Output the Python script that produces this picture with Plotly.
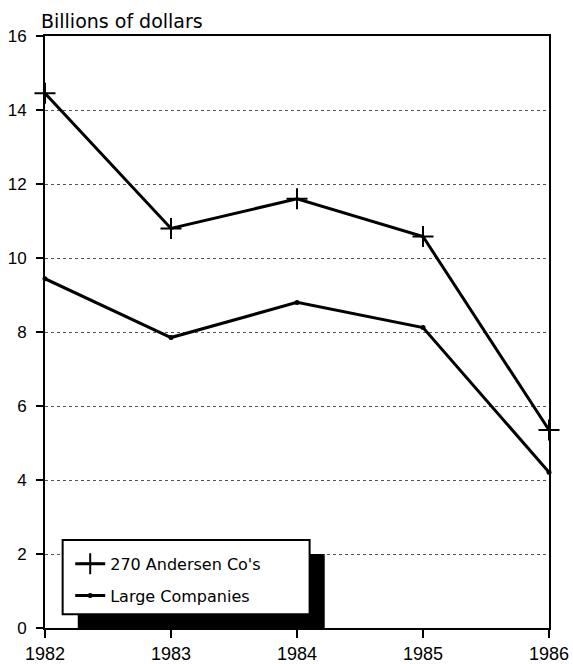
import plotly.graph_objects as go

years = [1982, 1983, 1984, 1985, 1986]
andersen = [14.45, 10.8, 11.6, 10.58, 5.35]
large_cos = [9.44, 7.85, 8.8, 8.12, 4.21]
series_names = ["270 Andersen Co's", "Large Companies"]
y_title = "Billions of dollars"

fig = go.Figure()
fig.add_trace(go.Scatter(
    x=years, y=andersen, name=series_names[0], mode="lines+markers",
    line=dict(color="black", width=3),
    marker=dict(symbol="cross-thin", size=15, line=dict(color="black", width=2)),
    legendgroup="a", cliponaxis=False,
))
fig.add_trace(go.Scatter(
    x=years, y=large_cos, name=series_names[1], mode="lines+markers",
    line=dict(color="black", width=3),
    marker=dict(symbol="circle", size=5, color="black"),
    legendgroup="b", cliponaxis=False,
))

# legend box with drop shadow
fig.add_shape(type="rect", xref="x", yref="y", x0=1982.26, x1=1984.22, y0=0, y1=2,
              fillcolor="black", line=dict(width=0), layer="above")
fig.add_shape(type="rect", xref="x", yref="y", x0=1982.14, x1=1984.10, y0=0.37, y1=2.38,
              fillcolor="white", line=dict(color="black", width=2), layer="above")

fig.add_annotation(text=y_title, xref="paper", yref="paper", x=0, y=1,
                   xanchor="left", yanchor="bottom", xshift=-6, yshift=2, showarrow=False,
                   font=dict(family="DejaVu Sans", size=19, color="black"))

fig.update_layout(
    width=573, height=664,
    margin=dict(l=45, r=24, t=36, b=36, autoexpand=False),
    paper_bgcolor="white", plot_bgcolor="white",
    font=dict(family="Liberation Sans", color="black"),
    showlegend=True,
    legend=dict(x=0.05, y=0.137, xanchor="left", yanchor="top",
                bgcolor="rgba(0,0,0,0)", borderwidth=0,
                font=dict(family="DejaVu Sans", size=16, color="black"),
                traceorder="grouped", tracegroupgap=8),
)
fig.update_xaxes(range=[1982, 1986], tickvals=years, ticks="outside", ticklen=8,
                 tickwidth=2, tickcolor="black", showline=True, linecolor="black",
                 linewidth=2, mirror=True, showgrid=False, zeroline=False,
                 automargin=False,
                 tickfont=dict(family="Liberation Sans", size=18, color="black"))
fig.update_yaxes(range=[0, 16], dtick=2, ticks="outside", ticklen=7, tickwidth=2,
                 tickcolor="black", showline=True, linecolor="black", linewidth=2,
                 mirror=True, showgrid=True, gridcolor="#555555", gridwidth=1,
                 griddash="dot", zeroline=False, ticklabelstandoff=6,
                 automargin=False,
                 tickfont=dict(family="Liberation Sans", size=17, color="black"))

fig.write_html("out.html",
               config={"displayModeBar": False},
               post_script="document.body.style.margin='0';document.body.style.overflow='hidden';")
